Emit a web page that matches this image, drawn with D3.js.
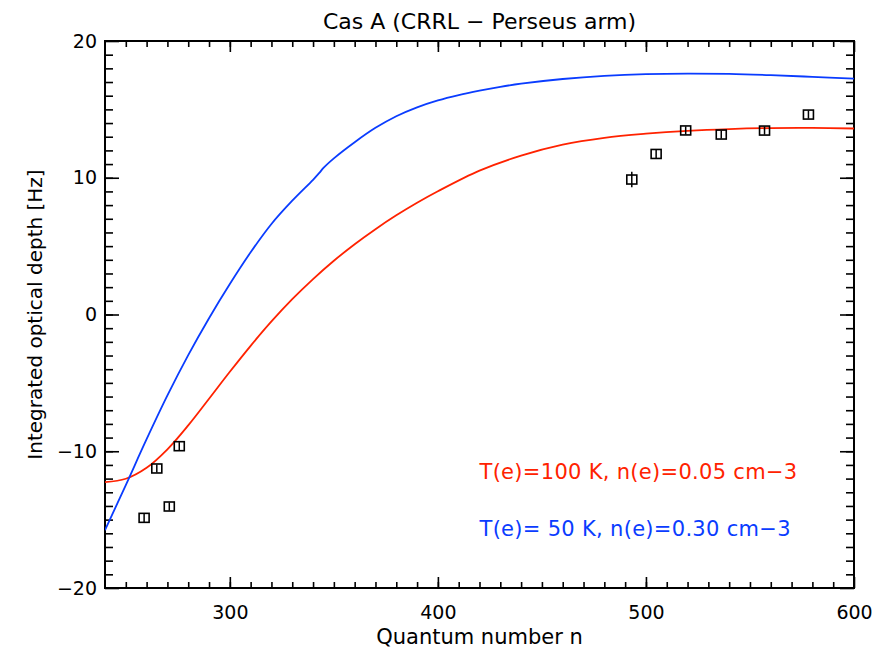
<!DOCTYPE html>
<meta charset="utf-8">
<style>
  body { margin: 0; background: #fff; }
  text { font-family: "DejaVu Sans", sans-serif; }
</style>
<body>
<script src="https://d3js.org/d3.v7.min.js"></script>
<script>
// observed points (quantum number, integrated optical depth, error)
var obsN   = [258.8, 264.9, 270.9, 275.7, 493.2, 504.9, 519.1, 536.2, 557.0, 578.1];
var obsTau = [-14.87, -11.26, -14.04, -9.63, 9.87, 11.74, 13.46, 13.16, 13.45, 14.62];
var obsErr = [0.3, 0.3, 0.3, 0.3, 0.57, 0.3, 0.3, 0.3, 0.3, 0.3];

// model T(e)=100 K, n(e)=0.05
var redN   = [240, 250, 260, 270, 280, 290, 300, 310, 320, 330, 340, 350, 360, 370, 380, 390, 400, 420, 440, 460, 480, 500, 520, 540, 560, 580, 600];
var redTau = [-12.26, -12.01, -11.21, -9.86, -8.11, -6.16, -4.19, -2.29, -0.51, 1.12, 2.59, 3.93, 5.14, 6.24, 7.25, 8.17, 9.01, 10.52, 11.62, 12.42, 12.92, 13.22, 13.43, 13.56, 13.63, 13.64, 13.60];

// model T(e)=50 K, n(e)=0.30
var blueN   = [240, 250, 260, 270, 280, 290, 300, 310, 320, 330, 340, 343, 345, 350, 360, 370, 380, 390, 400, 410, 420, 430, 440, 460, 480, 500, 520, 540, 560, 580, 600];
var blueTau = [-15.77, -12.47, -9.12, -5.92, -2.97, -0.27, 2.23, 4.55, 6.62, 8.32, 9.85, 10.35, 10.72, 11.42, 12.60, 13.65, 14.50, 15.15, 15.66, 16.05, 16.37, 16.65, 16.88, 17.22, 17.45, 17.58, 17.62, 17.59, 17.50, 17.38, 17.25];

var xMajor = [300, 400, 500, 600];
var yMajor = [-20, -10, 0, 10, 20];
var legendLines = ["T(e)=100 K, n(e)=0.05 cm\u22123", "T(e)= 50 K, n(e)=0.30 cm\u22123"];
var colors = ["#ff2200", "#0a3cff"];

var svg = d3.select("body").append("svg")
    .attr("width", 895)
    .attr("height", 651);

var margin = {top: 41, right: 41, bottom: 63, left: 105},
    width = +svg.attr("width") - margin.left - margin.right,
    height = +svg.attr("height") - margin.top - margin.bottom,
    g = svg.append("g").attr("transform", "translate(" + margin.left + "," + margin.top + ")");

var x = d3.scaleLinear().domain([240, 600]).range([0, width]);
var y = d3.scaleLinear().domain([-20, 20]).range([height, 0]);

g.append("clipPath").attr("id", "clip")
  .append("rect").attr("width", width).attr("height", height);

// axes, ticks pointing inward
function styleAxis(sel) {
    sel.select(".domain").remove();
    sel.selectAll(".tick line").attr("stroke", "#000").attr("stroke-width", 1.6);
    sel.selectAll(".tick text").style("font-size", "19px").style("fill", "#000");
}
var fmt = function(d) { return d < 0 ? "\u2212" + Math.abs(d) : d; };

g.append("g").attr("transform", "translate(0," + height + ")")
    .call(d3.axisBottom(x).tickValues(xMajor).tickSize(-11).tickPadding(18).tickFormat(fmt))
    .call(styleAxis);
g.append("g").attr("transform", "translate(0," + height + ")")
    .call(d3.axisBottom(x).tickValues(d3.range(250, 600, 10)).tickSize(-6).tickFormat(""))
    .call(styleAxis);
g.append("g")
    .call(d3.axisTop(x).tickValues(xMajor).tickSize(-11).tickFormat(""))
    .call(styleAxis);
g.append("g")
    .call(d3.axisTop(x).tickValues(d3.range(250, 600, 10)).tickSize(-6).tickFormat(""))
    .call(styleAxis);

g.append("g")
    .call(d3.axisLeft(y).tickValues(yMajor).tickSize(-14).tickPadding(8).tickFormat(fmt))
    .call(styleAxis);
g.append("g")
    .call(d3.axisLeft(y).tickValues(d3.range(-19, 20, 1)).tickSize(-8).tickFormat(""))
    .call(styleAxis);
g.append("g").attr("transform", "translate(" + width + ",0)")
    .call(d3.axisRight(y).tickValues(yMajor).tickSize(-14).tickFormat(""))
    .call(styleAxis);
g.append("g").attr("transform", "translate(" + width + ",0)")
    .call(d3.axisRight(y).tickValues(d3.range(-19, 20, 1)).tickSize(-8).tickFormat(""))
    .call(styleAxis);

g.append("rect")
    .attr("width", width).attr("height", height)
    .attr("fill", "none").attr("stroke", "#000").attr("stroke-width", 2);

// model curves
var line = d3.line()
    .x(function(d) { return x(d[0]); })
    .y(function(d) { return y(d[1]); })
    .curve(d3.curveCatmullRom.alpha(0.5));

[[redN, redTau], [blueN, blueTau]].forEach(function(s, i) {
    g.append("path")
        .datum(d3.zip(s[0], s[1]))
        .attr("clip-path", "url(#clip)")
        .attr("fill", "none")
        .attr("stroke", colors[i])
        .attr("stroke-width", 1.8)
        .attr("d", line);
});

// observed points: square symbol + error bar
var obs = d3.zip(obsN, obsTau, obsErr);
var pts = g.selectAll(".pt").data(obs).enter().append("g")
    .attr("transform", function(d) { return "translate(" + x(d[0]) + "," + y(d[1]) + ")"; });
pts.append("rect")
    .attr("x", -5).attr("y", -4.5).attr("width", 10).attr("height", 9)
    .attr("fill", "none").attr("stroke", "#000").attr("stroke-width", 1.6);
pts.append("line")
    .attr("y1", function(d) { return y(d[1] + d[2]) - y(d[1]); })
    .attr("y2", function(d) { return y(d[1] - d[2]) - y(d[1]); })
    .attr("stroke", "#000").attr("stroke-width", 1.5);

// legend text
legendLines.forEach(function(t, i) {
    g.append("text")
        .attr("x", x(420)).attr("y", y(-12.0 - i * 4.2))
        .style("font-size", "21px")
        .style("letter-spacing", "0.3px")
        .style("fill", colors[i])
        .text(t);
});

// titles
svg.append("text")
    .attr("x", margin.left + width / 2).attr("y", 29)
    .attr("text-anchor", "middle")
    .style("font-size", "22px")
    .text("Cas A (CRRL \u2212 Perseus arm)");

svg.append("text")
    .attr("x", margin.left + width / 2).attr("y", 644)
    .attr("text-anchor", "middle")
    .style("font-size", "21px")
    .text("Quantum number n");

svg.append("text")
    .attr("transform", "translate(42," + (margin.top + height / 2) + ") rotate(-90)")
    .attr("text-anchor", "middle")
    .style("font-size", "20px")
    .text("Integrated optical depth [Hz]");
</script>
</body>
